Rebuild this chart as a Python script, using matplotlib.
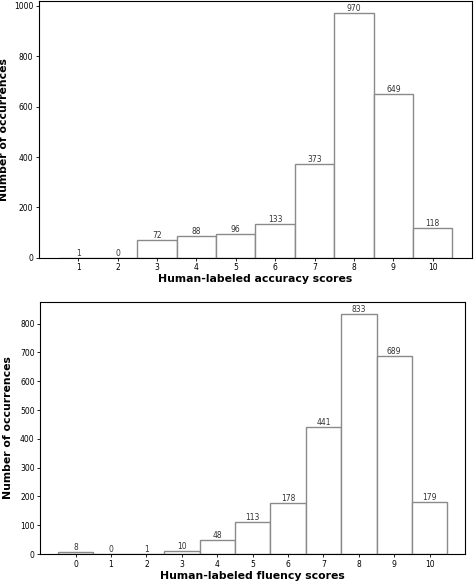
import matplotlib
matplotlib.use("Agg")
import matplotlib.pyplot as plt

# accuracy histogram
acc_scores = [1, 2, 3, 4, 5, 6, 7, 8, 9, 10]
acc_counts = [1, 0, 72, 88, 96, 133, 373, 970, 649, 118]

# fluency histogram
flu_scores = [0, 1, 2, 3, 4, 5, 6, 7, 8, 9, 10]
flu_counts = [8, 0, 1, 10, 48, 113, 178, 441, 833, 689, 179]

fig = plt.figure(figsize=(4.74, 5.82), dpi=100)
ax1 = fig.add_axes([0.082, 0.557, 0.914, 0.441])
ax2 = fig.add_axes([0.085, 0.048, 0.896, 0.433])


def draw(ax, scores, counts, xlabel, ylab_x):
    ax.bar(scores, counts, width=1.0, color="white", edgecolor="#8a8a8a", linewidth=1.0)
    for s, c in zip(scores, counts):
        ax.text(s, c, str(c), ha="center", va="bottom", fontsize=5.5, color="#333333")
    ax.set_xticks(scores)
    ax.set_xlim(min(scores) - 1, max(scores) + 1)
    ax.set_ylim(0, max(counts) * 1.05)
    ax.tick_params(labelsize=5.5, length=2.5, width=0.6, pad=1.5)
    ax.set_xlabel(xlabel, fontsize=7.8, fontweight="bold", labelpad=1.5)
    ax.set_ylabel("Number of occurrences", fontsize=7.8, fontweight="bold")
    ax.yaxis.set_label_coords(ylab_x, 0.5)
    for sp in ax.spines.values():
        sp.set_linewidth(0.8)


draw(ax1, acc_scores, acc_counts, "Human-labeled accuracy scores", -0.068)
draw(ax2, flu_scores, flu_counts, "Human-labeled fluency scores", -0.064)

fig.savefig("out.png", dpi=100)
